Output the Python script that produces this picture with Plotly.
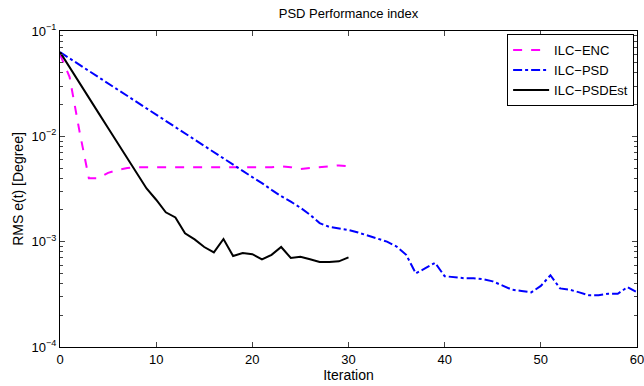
import plotly.graph_objects as go

iter_enc = list(range(0, 31))
rms_enc = [0.060, 0.0365, 0.0115, 0.0040, 0.0040, 0.0045, 0.0048, 0.0050, 0.0051, 0.0051,
           0.0051, 0.0051, 0.0051, 0.0051, 0.0051, 0.0051, 0.0051, 0.0051, 0.0051, 0.0051,
           0.0051, 0.0051, 0.0051, 0.0052, 0.0051, 0.0049, 0.0050, 0.0051, 0.0052, 0.0053, 0.0052]

iter_psd = list(range(0, 61))
rms_psd = [0.063, 0.055, 0.048, 0.042, 0.0365, 0.0318, 0.0278, 0.0242, 0.0211, 0.0184,
           0.0161, 0.0140, 0.0122, 0.0107, 0.0093, 0.0081, 0.0071, 0.0062, 0.0054, 0.0047,
           0.0041, 0.0036, 0.0031, 0.0027, 0.0024, 0.0021, 0.0018, 0.0015, 0.00138, 0.00133,
           0.00129, 0.00122, 0.00115, 0.00107, 0.00100, 0.00090, 0.00075, 0.00050, 0.00056, 0.00063,
           0.00047, 0.00046, 0.00045, 0.00045, 0.00044, 0.00042, 0.00038, 0.00035, 0.00034, 0.00033,
           0.00038, 0.00048, 0.00036, 0.00035, 0.00033, 0.00031, 0.00031, 0.00032, 0.00032, 0.00037, 0.00033]

iter_est = list(range(0, 31))
rms_est = [0.063, 0.0455, 0.0325, 0.0233, 0.0167, 0.0120, 0.0086, 0.0062, 0.0044, 0.0032,
           0.0025, 0.0019, 0.0017, 0.0012, 0.00105, 0.00089, 0.00079, 0.00106, 0.00073, 0.00078,
           0.00076, 0.00068, 0.00075, 0.00089, 0.00070, 0.00072, 0.00068, 0.00064, 0.00064, 0.00065, 0.00071]

y_tickvals = [1e-4, 1e-3, 1e-2, 1e-1]
y_ticktext = ["10<sup>−4</sup>", "10<sup>−3</sup>", "10<sup>−2</sup>", "10<sup>−1</sup>"]
minor_vals = [m * 10 ** e for e in (-4, -3, -2) for m in range(2, 10)]

fig = go.Figure()
fig.add_trace(go.Scatter(x=iter_enc, y=rms_enc, mode="lines", name="ILC−ENC",
                         line=dict(color="#ff00ff", width=2, dash="dash")))
fig.add_trace(go.Scatter(x=iter_psd, y=rms_psd, mode="lines", name="ILC−PSD",
                         line=dict(color="#0000ff", width=2, dash="dashdot")))
fig.add_trace(go.Scatter(x=iter_est, y=rms_est, mode="lines", name="ILC−PSDEst",
                         line=dict(color="black", width=2)))

font = dict(family="Liberation Sans, Arial, sans-serif", size=12, color="black")
fig.update_layout(
    width=644, height=386,
    margin=dict(l=60, r=7, t=31, b=39),
    paper_bgcolor="white", plot_bgcolor="white",
    font=font,
    title=dict(text="PSD Performance index", x=(60 + 637) / 2 / 644, xanchor="center",
               y=1 - 13 / 386, yanchor="middle", font=dict(size=13)),
    legend=dict(x=0.995, xanchor="right", y=0.99, yanchor="top",
                bordercolor="black", borderwidth=1, bgcolor="white",
                font=dict(size=13), tracegroupgap=0, itemwidth=36),
    showlegend=True,
)
fig.update_xaxes(range=[0, 60], dtick=10, tick0=0, ticks="inside", ticklen=5,
                 showline=True, linecolor="black", linewidth=1, mirror="ticks",
                 showgrid=False, zeroline=False, ticklabeloverflow="allow",
                 automargin=False,
                 title=dict(text="Iteration", standoff=2),
                 tickfont=dict(size=13))
fig.update_yaxes(type="log", range=[-4, -1], tickvals=y_tickvals, ticktext=y_ticktext,
                 ticks="inside", ticklen=5, showline=True, linecolor="black", linewidth=1,
                 mirror="ticks", showgrid=False, zeroline=False, automargin=False,
                 minor=dict(ticks="inside", ticklen=3, tickvals=minor_vals, showgrid=False),
                 title=dict(text="RMS e(t) [Degree]", standoff=4),
                 tickfont=dict(size=13))

fig.write_html("out.html")
